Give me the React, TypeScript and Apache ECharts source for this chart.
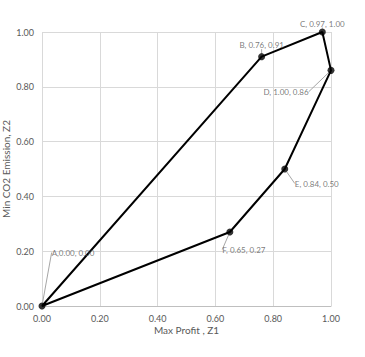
import React, { useEffect, useRef } from "react";
import * as echarts from "echarts";

const pointNames = ["A", "B", "C", "D", "E", "F"];
const z1Values = [0.0, 0.76, 0.97, 1.0, 0.84, 0.65];
const z2Values = [0.0, 0.91, 1.0, 0.86, 0.5, 0.27];
const axisTicks = [0, 0.2, 0.4, 0.6, 0.8, 1.0];

// label offsets in pixels (dx, dy) relative to each point's default label spot
const labelOffsets: [number, number][] = [
  [31, -42],
  [0, 0],
  [0, 3],
  [-45, 33],
  [32, 26],
  [14, 29],
];

const TXT = "#595959";
const FONT = "Lato";

export default function App() {
  const ref = useRef<HTMLDivElement>(null);
  useEffect(() => {
    if (!ref.current) return;
    const chart = echarts.init(ref.current, null, { renderer: "svg" });
    const pts = z1Values.map((x, i) => [x, z2Values[i]]);
    const loop = [...pts, pts[0]];
    chart.setOption({
      animation: false,
      backgroundColor: "#ffffff",
      grid: {
        left: 42,
        top: 32,
        width: 289,
        height: 274,
        containLabel: false,
        outerBoundsMode: "none",
      },
      xAxis: {
        type: "value",
        min: axisTicks[0],
        max: axisTicks[axisTicks.length - 1],
        interval: 0.2,
        name: "Max Profit , Z1",
        nameLocation: "middle",
        nameGap: 19,
        nameMoveOverlap: false,
        nameTextStyle: { color: TXT, fontSize: 10, fontFamily: FONT },
        axisLine: { show: true, lineStyle: { color: "#bfbfbf", width: 1 } },
        axisTick: { show: false },
        splitLine: { show: true, lineStyle: { color: "#d9d9d9", width: 1 } },
        axisLabel: {
          color: TXT,
          fontSize: 9,
          fontFamily: FONT,
          margin: 8,
          formatter: (v: number) => v.toFixed(2),
        },
      },
      yAxis: {
        type: "value",
        min: axisTicks[0],
        max: axisTicks[axisTicks.length - 1],
        interval: 0.2,
        name: "Min CO2 Emission, Z2",
        nameLocation: "middle",
        nameGap: 31,
        nameMoveOverlap: false,
        nameTextStyle: { color: TXT, fontSize: 10, fontFamily: FONT },
        axisLine: { show: false },
        axisTick: { show: false },
        splitLine: { show: true, lineStyle: { color: "#d9d9d9", width: 1 } },
        axisLabel: {
          color: TXT,
          fontSize: 9,
          fontFamily: FONT,
          margin: 8,
          formatter: (v: number) => v.toFixed(2),
        },
      },
      series: [
        {
          type: "line",
          data: loop,
          showSymbol: false,
          symbol: "none",
          lineStyle: { color: "#000000", width: 2 },
          z: 2,
        },
        {
          type: "scatter",
          data: pts.map((p, i) => ({ name: pointNames[i], value: p })),
          symbol: "circle",
          symbolSize: 7,
          itemStyle: { color: "#000000" },
          z: 3,
          label: {
            show: true,
            position: "top",
            distance: 4,
            color: TXT,
            fontSize: 8,
            fontFamily: FONT,
            formatter: (p: any) =>
              `${p.name}${p.dataIndex === 0 ? "," : ", "}${p.value[0].toFixed(2)}, ${p.value[1].toFixed(2)}`,
          },
          labelLine: {
            show: true,
            showAbove: false,
            lineStyle: { color: "#a6a6a6", width: 1 },
          },
          labelLayout: (params: any) => {
            const o = labelOffsets[params.dataIndex];
            return { dx: o[0], dy: o[1] };
          },
        },
      ],
    });
    return () => chart.dispose();
  }, []);
  return (
    <div
      ref={ref}
      style={{ position: "absolute", left: 0, top: 0, width: 365, height: 357 }}
    />
  );
}
